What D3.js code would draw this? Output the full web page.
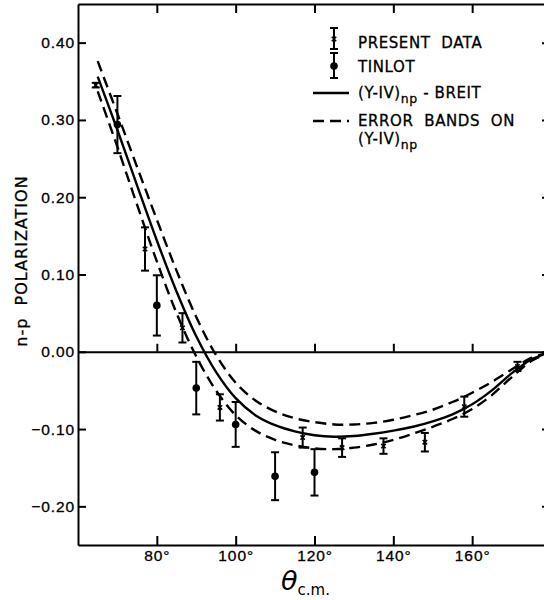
<!DOCTYPE html>
<html>
<head>
<meta charset="utf-8">
<title>n-p polarization</title>
<script src="https://d3js.org/d3.v7.min.js"></script>
<style>
  body { margin: 0; background: #fff; }
  svg { font-family: "DejaVu Sans", sans-serif; }
  text { white-space: pre; }
  .axis path, .axis line { stroke: #000; stroke-width: 2px; fill: none; }
  .axis text { font-size: 15.5px; fill: #000; letter-spacing: 0.9px; stroke: #000; stroke-width: 0.3px; }
  .curve { fill: none; stroke: #000; stroke-width: 2.4px; }
  .band { stroke-dasharray: 11, 6; }
  .err { stroke: #000; stroke-width: 2px; }
  .legend text { font-size: 15px; letter-spacing: 0.6px; stroke: #000; stroke-width: 0.3px; }
</style>
</head>
<body>
<svg width="544" height="600"></svg>
<script>
// Present data (x markers)
const presentAngle = [64.5, 77, 86.5, 96, 117, 127, 137.5, 148, 158, 171.5];
const presentPol   = [0.345, 0.133, 0.031, -0.072, -0.111, -0.124, -0.122, -0.117, -0.071, -0.019];
const presentErr   = [0.003, 0.028, 0.019, 0.017, 0.013, 0.012, 0.010, 0.012, 0.013, 0.006];

// Tinlot (filled circles)
const tinlotAngle = [70, 80, 90, 100, 110, 120];
const tinlotPol   = [0.294, 0.060, -0.047, -0.094, -0.161, -0.156];
const tinlotErr   = [0.037, 0.039, 0.034, 0.029, 0.031, 0.030];

// (Y-IV)np - Breit curve and its error bands
const curveAngle = [65, 70, 75, 80, 85, 90, 95, 100, 105, 110, 115, 120, 125, 130, 135, 140, 145, 150, 155, 160, 165, 170, 175, 180];
const breit = [0.356, 0.287, 0.215, 0.144, 0.078, 0.020, -0.026, -0.060, -0.082, -0.095, -0.103, -0.108, -0.110, -0.109, -0.106, -0.102, -0.097, -0.090, -0.081, -0.068, -0.050, -0.028, -0.010, 0];
const bandUpper = [0.376, 0.308, 0.239, 0.171, 0.105, 0.045, -0.004, -0.040, -0.063, -0.077, -0.086, -0.091, -0.094, -0.094, -0.092, -0.088, -0.082, -0.075, -0.065, -0.053, -0.039, -0.023, -0.008, 0];
const bandLower = [0.337, 0.265, 0.190, 0.117, 0.050, -0.006, -0.050, -0.082, -0.102, -0.114, -0.121, -0.125, -0.126, -0.124, -0.120, -0.114, -0.106, -0.097, -0.087, -0.074, -0.056, -0.033, -0.012, 0];

const xTicks = [80, 100, 120, 140, 160];
const yTicks = [-0.2, -0.1, 0, 0.1, 0.2, 0.3, 0.4];

const plotLeft = 78, plotRight = 551, plotTop = 4, plotBottom = 545;

const svg = d3.select("svg");

const x = d3.scaleLinear().domain([60, 180]).range([plotLeft, plotRight]);
const y = d3.scaleLinear().domain([-0.25, 0.45]).range([plotBottom, plotTop]);

svg.append("defs").append("clipPath").attr("id", "plot")
  .append("rect")
  .attr("x", plotLeft).attr("y", plotTop)
  .attr("width", plotRight - plotLeft).attr("height", plotBottom - plotTop);

// frame axes
svg.append("g").attr("class", "axis")
  .attr("transform", `translate(0,${plotBottom})`)
  .call(d3.axisBottom(x).tickValues(xTicks).tickSize(-9).tickSizeOuter(0).tickPadding(5)
    .tickFormat(d => d + "°"));

svg.append("g").attr("class", "axis")
  .attr("transform", `translate(0,${plotTop})`)
  .call(d3.axisTop(x).tickValues(xTicks).tickSize(-9).tickSizeOuter(0).tickFormat(""));

svg.append("g").attr("class", "axis")
  .attr("transform", `translate(${plotLeft},0)`)
  .call(d3.axisLeft(y).tickValues(yTicks).tickSize(-8).tickSizeOuter(0).tickPadding(3)
    .tickFormat(d3.format(".2f")));

svg.append("g").attr("class", "axis")
  .attr("transform", `translate(${plotRight},0)`)
  .call(d3.axisRight(y).tickValues(yTicks).tickSize(-9).tickSizeOuter(0).tickFormat(""));

// zero line with ticks
svg.append("g").attr("class", "axis")
  .attr("transform", `translate(0,${y(0)})`)
  .call(d3.axisBottom(x).tickValues(xTicks).tickSize(-8).tickSizeOuter(0).tickFormat(""));

// curves
const plot = svg.append("g").attr("clip-path", "url(#plot)");
const line = d3.line()
  .x((d, i) => x(curveAngle[i]))
  .y(d => y(d))
  .curve(d3.curveCatmullRom.alpha(0.5));

plot.append("path").attr("class", "curve").attr("d", line(breit));
plot.append("path").attr("class", "curve band").attr("d", line(bandUpper));
plot.append("path").attr("class", "curve band").attr("d", line(bandLower));

// error bars
function errorBars(g, angles, vals, errs) {
  const cap = 4;
  angles.forEach((a, i) => {
    const cx = x(a), y1 = y(vals[i] + errs[i]), y2 = y(vals[i] - errs[i]);
    g.append("line").attr("class", "err").attr("x1", cx).attr("x2", cx).attr("y1", y1).attr("y2", y2);
    g.append("line").attr("class", "err").attr("x1", cx - cap).attr("x2", cx + cap).attr("y1", y1).attr("y2", y1);
    g.append("line").attr("class", "err").attr("x1", cx - cap).attr("x2", cx + cap).attr("y1", y2).attr("y2", y2);
  });
}

function crossMark(g, cx, cy) {
  const s = 2.2;
  g.append("path")
    .attr("d", `M${cx - s},${cy - s}L${cx + s},${cy + s}M${cx - s},${cy + s}L${cx + s},${cy - s}`)
    .attr("stroke", "#000").attr("stroke-width", 1.6);
}

const pts = svg.append("g");
errorBars(pts, presentAngle, presentPol, presentErr);
presentAngle.forEach((a, i) => crossMark(pts, x(a), y(presentPol[i])));

errorBars(pts, tinlotAngle, tinlotPol, tinlotErr);
pts.selectAll(".tin")
  .data(tinlotAngle)
  .enter().append("circle")
  .attr("class", "tin")
  .attr("cx", d => x(d))
  .attr("cy", (d, i) => y(tinlotPol[i]))
  .attr("r", 3.8)
  .attr("fill", "#000");

// legend
const lg = svg.append("g").attr("class", "legend");
function legendBar(cx, y1, y2) {
  lg.append("line").attr("class", "err").attr("x1", cx).attr("x2", cx).attr("y1", y1).attr("y2", y2);
  lg.append("line").attr("class", "err").attr("x1", cx - 4).attr("x2", cx + 4).attr("y1", y1).attr("y2", y1);
  lg.append("line").attr("class", "err").attr("x1", cx - 4).attr("x2", cx + 4).attr("y1", y2).attr("y2", y2);
}
legendBar(334, 28, 49);
crossMark(lg, 334, 39);
legendBar(334, 53, 78);
lg.append("circle").attr("cx", 334).attr("cy", 66).attr("r", 3.8).attr("fill", "#000");

lg.append("line").attr("class", "curve").attr("x1", 313).attr("x2", 349).attr("y1", 93).attr("y2", 93);
lg.append("line").attr("class", "curve band").attr("x1", 313).attr("x2", 349).attr("y1", 121).attr("y2", 121)
  .attr("stroke-dasharray", "8,5");

lg.append("text").attr("x", 358).attr("y", 48).text("PRESENT  DATA");
lg.append("text").attr("x", 358).attr("y", 72).text("TINLOT");
const t1 = lg.append("text").attr("x", 358).attr("y", 98);
t1.append("tspan").text("(Y-IV)");
t1.append("tspan").attr("dy", 5).style("font-size", "12.5px").text("np");
t1.append("tspan").attr("dy", -5).text(" - BREIT");
lg.append("text").attr("x", 358).attr("y", 126).text("ERROR  BANDS  ON");
const t2 = lg.append("text").attr("x", 358).attr("y", 144);
t2.append("tspan").text("(Y-IV)");
t2.append("tspan").attr("dy", 5).style("font-size", "12.5px").text("np");

// axis titles
svg.append("text")
  .attr("transform", `translate(27,261) rotate(-90)`)
  .attr("text-anchor", "middle")
  .style("font-size", "16px")
  .style("letter-spacing", "1px")
  .attr("stroke", "#000").attr("stroke-width", 0.3)
  .text("n-p  POLARIZATION");

const xt = svg.append("text")
  .attr("x", 281).attr("y", 590);
xt.append("tspan").style("font-size", "27px").style("font-style", "italic").text("θ");
xt.append("tspan").attr("dy", 5).style("font-size", "15px").text("c.m.");
</script>
</body>
</html>
